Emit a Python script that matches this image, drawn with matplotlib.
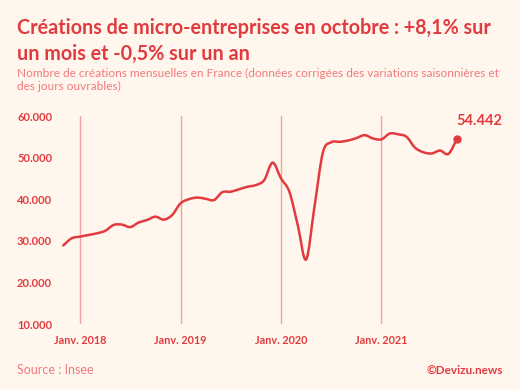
import numpy as np
import matplotlib
matplotlib.use("Agg")
import matplotlib.pyplot as plt
from matplotlib.path import Path
from matplotlib.patches import PathPatch
from matplotlib.ticker import FuncFormatter

# mois de nov. 2017 a oct. 2021 (0 = janv. 2018)
months = list(range(-2, 46))
creations = [
    28900, 30600,
    31000, 31400, 31800, 32400, 33800, 33900, 33300, 34400, 35000, 35800, 35100, 36200,
    39000, 40000, 40400, 40100, 39800, 41700, 41800, 42400, 43000, 43400, 44600, 48800,
    45000, 41800, 33800, 25500, 38200, 51200, 53700, 53800, 54100, 54700, 55400, 54600,
    54400, 55800, 55600, 55000, 52400, 51300, 51000, 51700, 50900, 54442,
]
year_ticks = [0, 12, 24, 36]
year_labels = ["Janv. 2018", "Janv. 2019", "Janv. 2020", "Janv. 2021"]
y_ticks = [10000, 20000, 30000, 40000, 50000, 60000]

bg = "#fff7ee"
red = "#e23b3f"
light = "#f27a7c"

plt.rcParams['font.family'] = ['Lato', 'DejaVu Sans']

fig = plt.figure(figsize=(5.2, 3.9), dpi=100, facecolor=bg)
ax = fig.add_axes([0.1056, 0.1692, 0.789, 0.5333], facecolor=bg)

# courbe lissee (catmull-rom -> bezier)
x = np.array(months, dtype=float)
y = np.array(creations, dtype=float)
verts = [(x[0], y[0])]
codes = [Path.MOVETO]
n = len(x)
for i in range(n - 1):
    p0 = np.array([x[max(i - 1, 0)], y[max(i - 1, 0)]])
    p1 = np.array([x[i], y[i]])
    p2 = np.array([x[i + 1], y[i + 1]])
    p3 = np.array([x[min(i + 2, n - 1)], y[min(i + 2, n - 1)]])
    c1 = p1 + (p2 - p0) / 6
    c2 = p2 - (p3 - p1) / 6
    verts += [tuple(c1), tuple(c2), tuple(p2)]
    codes += [Path.CURVE4] * 3
ax.add_patch(PathPatch(Path(verts, codes), fill=False, edgecolor=red, lw=1.8,
                       capstyle='round', joinstyle='round', zorder=3))
ax.plot(x[-1], y[-1], 'o', color=red, ms=5, zorder=4)
ax.annotate("54.442", (x[-1], y[-1]), xytext=(0, 8), textcoords='offset points',
            ha='left', va='bottom', color=red, fontsize=10.5, fontweight='bold')

ax.set_xlim(-3, 46)
ax.set_ylim(10000, 60000)
ax.set_xticks(year_ticks)
ax.set_xticklabels(year_labels)
ax.set_yticks(y_ticks)
ax.yaxis.set_major_formatter(FuncFormatter(lambda v, p: f"{int(v):,}".replace(",", ".")))
ax.grid(axis='x', color='#f5a0a0', lw=1.0)
ax.tick_params(length=0, colors=red, labelsize=8)
ax.tick_params(axis='x', pad=8, labelsize=7.8)
ax.tick_params(axis='y', pad=2)
for lab in ax.get_xticklabels() + ax.get_yticklabels():
    lab.set_fontweight('bold')
for s in ax.spines.values():
    s.set_visible(False)

fig.text(0.033, 0.894, "Créations de micro-entreprises en octobre : +8,1% sur\nun mois et -0,5% sur un an",
         color=red, fontsize=14.2, fontweight='bold', va='center', linespacing=1.38)
fig.text(0.033, 0.795, "Nombre de créations mensuelles en France (données corrigées des variations saisonnières et\ndes jours ouvrables)",
         color=light, fontsize=8.6, va='center', linespacing=1.2)
fig.text(0.033, 0.051, "Source : Insee", color=light, fontsize=9, va='center')
fig.text(0.967, 0.051, "©Devizu.news", color=red, fontsize=8.5, fontweight='bold', va='center', ha='right')

fig.savefig("out.png", dpi=100, facecolor=bg)
